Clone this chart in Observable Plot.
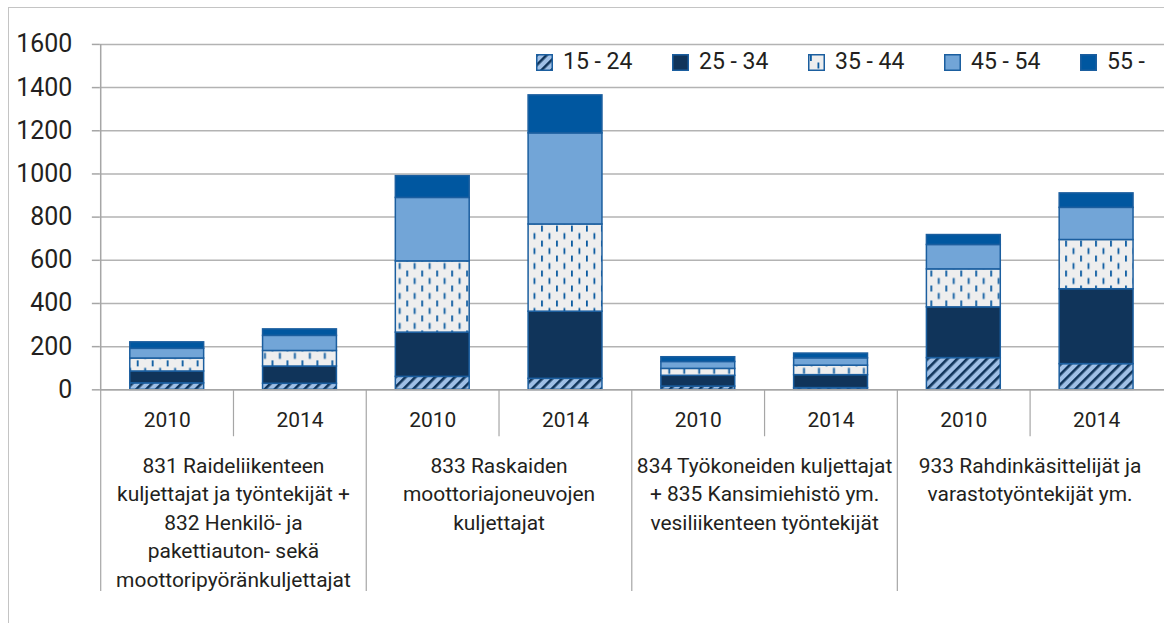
<!DOCTYPE html>
<html>
<head>
<meta charset="utf-8">
<script src="https://cdn.jsdelivr.net/npm/d3@7"></script>
<script src="https://cdn.jsdelivr.net/npm/@observablehq/plot@0.6"></script>
<style>
  html, body { margin: 0; padding: 0; background: #fff; }
  body { width: 1164px; height: 623px; overflow: hidden; position: relative; font-family: Roboto, "Noto Sans", sans-serif; color: #231f20; }
  #frame { position: absolute; left: 8px; top: 7px; width: 1300px; height: 800px; border: 1px solid #c4c4c4; pointer-events: none; }
  #chart { position: absolute; left: 0; top: 0; }
  #legend { position: absolute; left: 536px; top: 50px; display: flex; }
  .item { width: 136px; display: flex; align-items: center; font-size: 23px; line-height: 24px; }
  .item svg { margin-right: 10px; flex: none; }
</style>
</head>
<body>
<svg width="0" height="0" style="position:absolute">
  <defs>
    <pattern id="p1524" patternUnits="userSpaceOnUse" width="7" height="7" patternTransform="rotate(45)">
      <rect width="7" height="7" fill="#a0c0e6"></rect>
      <rect width="2.6" height="7" fill="#10345a"></rect>
    </pattern>
    <pattern id="p3544" patternUnits="userSpaceOnUse" width="15" height="15">
      <rect width="15" height="15" fill="#eeeeee"></rect>
      <rect x="2" y="1" width="1.8" height="6" fill="#0a5aa0"></rect>
      <rect x="9.5" y="8.5" width="1.8" height="6" fill="#0a5aa0"></rect>
    </pattern>
  </defs>
</svg>
<div id="frame"></div>
<div id="chart"></div>
<div id="legend"></div>
<script>
// ---- data ----
const groups = [
  "831 Raideliikenteen\nkuljettajat ja työntekijät +\n832 Henkilö- ja\npakettiauton- sekä\nmoottoripyöränkuljettajat",
  "833 Raskaiden\nmoottoriajoneuvojen\nkuljettajat",
  "834 Työkoneiden kuljettajat\n+ 835 Kansimiehistö ym.\nvesiliikenteen työntekijät",
  "933 Rahdinkäsittelijät ja\nvarastotyöntekijät ym."
];
const years = ["2010", "2014"];
const ageGroups = ["15 - 24", "25 - 34", "35 - 44", "45 - 54", "55 -"];
// values per bar, in order: group1 2010, group1 2014, group2 2010, ...
const age15_24 = [30, 28, 60, 51, 15, 8, 147, 119];
const age25_34 = [55, 80, 205, 311, 50, 60, 235, 347];
const age35_44 = [60, 72, 330, 404, 32, 44, 176, 228];
const age45_54 = [45, 70, 294, 422, 32, 34, 113, 149];
const age55 = [30, 30, 101, 176, 22, 22, 46, 67];
const yTicks = [0, 200, 400, 600, 800, 1000, 1200, 1400, 1600];

const seriesValues = [age15_24, age25_34, age35_44, age45_54, age55];
const fills = ["url(#p1524)", "#10345a", "url(#p3544)", "#72a5d7", "#0057a0"];

// ---- build table ----
const keys = [];
groups.forEach((g, gi) => years.forEach(y => keys.push(gi + "|" + y)));
const rows = [];
seriesValues.forEach((vals, si) => {
  keys.forEach((k, ki) => rows.push({key: k, age: ageGroups[si], value: vals[ki]}));
});
const groupRows = groups.map((g, gi) => ({label: g, key2014: gi + "|2014", key2010: gi + "|2010"}));

// ---- layout ----
const W = 1166, H = 623, mL = 100, mR = 0, mT = 44, mB = 233;
const step = (W - mL - mR) / keys.length;
const half = step / 2;

const plot = Plot.plot({
  width: W, height: H,
  marginLeft: mL, marginRight: mR, marginTop: mT, marginBottom: mB,
  style: {fontFamily: "Roboto, 'Noto Sans', sans-serif", color: "#231f20", background: "transparent", overflow: "visible"},
  x: {domain: keys, paddingInner: 0.44, paddingOuter: 0.22, axis: null},
  y: {domain: [0, 1600], axis: null, label: null},
  color: {domain: ageGroups, range: fills},
  marks: [
    Plot.gridY(yTicks, {stroke: "#b3b3b3", strokeOpacity: 1, strokeWidth: 1.5}),
    Plot.axisY(yTicks, {tickSize: 8, tickPadding: 20, fontSize: 25, stroke: "#a6a6a6", strokeWidth: 1.5, tickFormat: d => String(d)}),
    Plot.barY(rows, {x: "key", y: "value", fill: "age", stroke: "#1b5e9f", strokeWidth: 1.5}),
    Plot.ruleY([0], {stroke: "#a6a6a6", strokeWidth: 1.5}),
    // y axis line
    Plot.ruleX([keys[0]], {dx: -half, stroke: "#a6a6a6", strokeWidth: 1.5}),
    // separators between years
    Plot.ruleX(groupRows, {x: "key2014", y1: 0, y2: 0, insetBottom: -47, dx: -half, stroke: "#a6a6a6", strokeWidth: 1.2}),
    // separators between groups
    Plot.ruleX(groupRows, {x: "key2010", y1: 0, y2: 0, insetBottom: -202, dx: -half, stroke: "#a6a6a6", strokeWidth: 1.2}),
    Plot.axisX({tickSize: 0, tickPadding: 22, fontSize: 21, tickFormat: k => k.split("|")[1]}),
    Plot.text(groupRows, {x: "key2014", text: "label", frameAnchor: "bottom", lineAnchor: "top", dy: 63, dx: -half, fontSize: 21, lineHeight: 1.36, fill: "#231f20"})
  ]
});
document.getElementById("chart").appendChild(plot);

// ---- legend ----
const legend = document.getElementById("legend");
ageGroups.forEach((a, i) => {
  const item = document.createElement("div");
  item.className = "item";
  item.innerHTML = `<svg width="17" height="17"><rect x="0.75" y="0.75" width="15.5" height="15.5" fill="${fills[i]}" stroke="#1b5e9f" stroke-width="1.5"></rect></svg><span>${a}</span>`;
  legend.appendChild(item);
});
</script>
</body>
</html>
